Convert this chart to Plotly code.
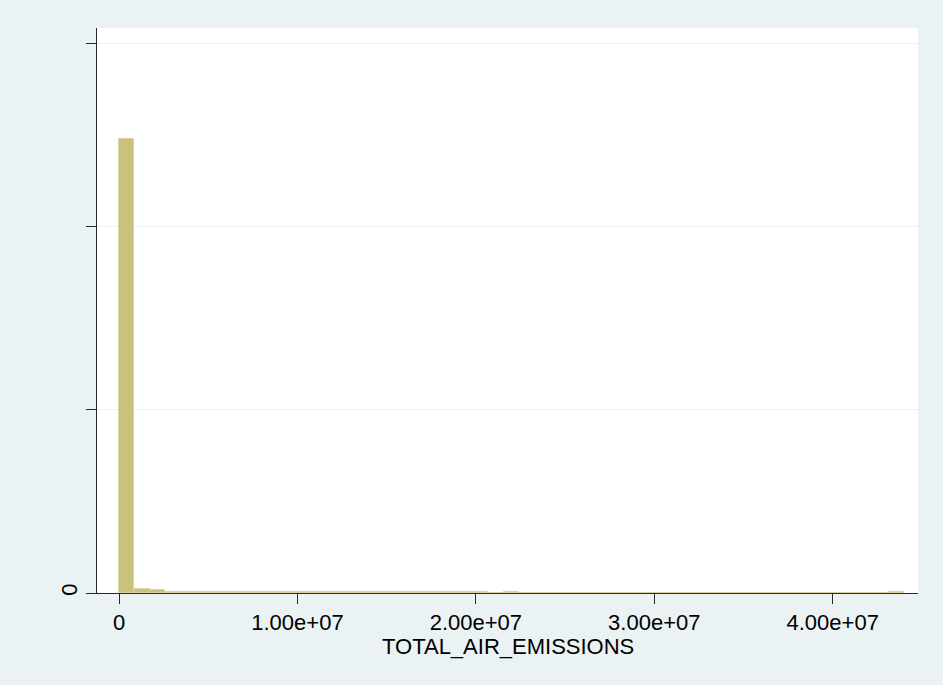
import plotly.graph_objects as go

# ---- data ----
bin_start = 0.0
bin_width = 862700.0
# density per bin (51 bins)
density = [
    9.90e-7, 9.8e-9, 5.5e-9, 2.2e-9, 2.2e-9, 2.2e-9, 2.2e-9, 2.2e-9, 2.2e-9, 2.2e-9,
    2.2e-9, 2.2e-9, 2.2e-9, 2.2e-9, 2.2e-9, 2.2e-9, 2.2e-9, 2.2e-9, 2.2e-9, 2.2e-9,
    2.2e-9, 2.2e-9, 2.2e-9, 2.2e-9, 0.0, 2.2e-9, 0.0, 0.0, 0.0, 0.0,
    0.0, 0.0, 0.0, 0.0, 0.0, 0.0, 0.0, 0.0, 0.0, 0.0,
    0.0, 0.0, 0.0, 0.0, 0.0, 0.0, 0.0, 0.0, 0.0, 0.0,
    2.2e-9,
]
x_tickvals = [0, 1e7, 2e7, 3e7, 4e7]
x_ticktext = ["0", "1.00e+07", "2.00e+07", "3.00e+07", "4.00e+07"]
y_tickvals = [0, 4e-7, 8e-7, 1.2e-6]
y_ticktext = ["0", "", "", ""]
x_title = "TOTAL_AIR_EMISSIONS"

centers = [bin_start + (i + 0.5) * bin_width for i in range(len(density))]

fig = go.Figure()
fig.add_trace(go.Bar(
    x=centers,
    y=density,
    width=[bin_width] * len(density),
    marker=dict(color="rgb(201,194,126)",
                line=dict(color="rgb(216,211,160)", width=1)),
    showlegend=False,
))

font = dict(family="Liberation Sans, Arial, sans-serif", size=22, color="black")

fig.update_layout(
    width=943, height=685,
    margin=dict(l=97, r=25, t=28, b=92),
    paper_bgcolor="rgb(234,242,243)",
    plot_bgcolor="white",
    font=font,
    bargap=0,
    xaxis=dict(
        range=[-0.1233e7, 4.478e7],
        tickvals=x_tickvals, ticktext=x_ticktext,
        ticks="outside", ticklen=10, tickwidth=1, tickcolor="rgb(40,40,40)",
        showline=True, linecolor="rgb(40,40,40)", linewidth=1,
        showgrid=False, zeroline=False,
        tickfont=font,
    ),
    yaxis=dict(
        range=[0, 3.082 * 4e-7],
        tickvals=y_tickvals, ticktext=y_ticktext,
        ticks="outside", ticklen=10, tickwidth=1, tickcolor="rgb(40,40,40)",
        showline=True, linecolor="rgb(40,40,40)", linewidth=1,
        showgrid=True, gridcolor="rgb(234,242,243)", gridwidth=1,
        zeroline=False,
        tickangle=-90,
        tickfont=font,
    ),
    annotations=[dict(
        text=x_title, xref="paper", yref="paper", x=0.5, y=-0.094,
        xanchor="center", yanchor="middle", showarrow=False, font=font,
    )],
)

fig.write_html("out.html")
